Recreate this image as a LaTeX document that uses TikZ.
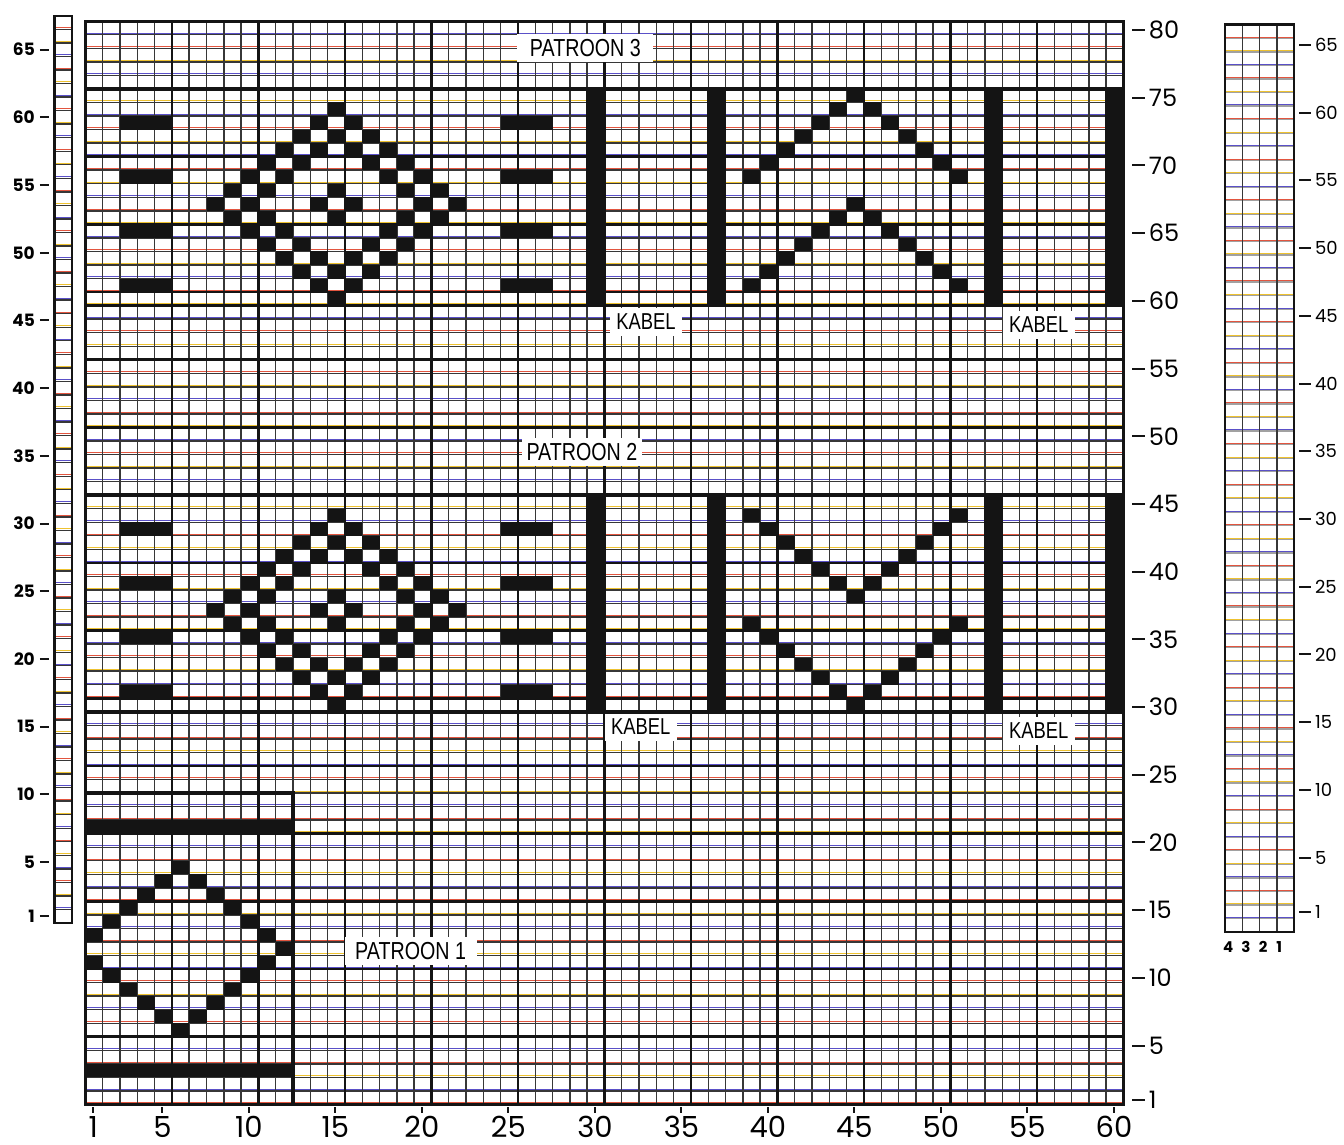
\documentclass[tikz,border=0pt]{standalone}
\usepackage{fontspec}
\usepackage{xcolor}
\newfontfamily\labelfont[FakeStretch=0.8]{Liberation Sans}
\newfontfamily\axisfont{Poppins}
\definecolor{inkblack}{HTML}{141414}
\definecolor{rulered}{HTML}{E2553F}
\definecolor{ruleblue}{HTML}{5A50C8}
\definecolor{ruleyellow}{HTML}{EEC230}
\newcommand{\stitchat}[2]{\fill[stitch] ({#1-1},{#2-1}) rectangle ({#1},{#2});}

\begin{document}
\begin{tikzpicture}[x=8.65pt, y=6.77pt,
    thinrule/.style={line width=0.7pt, draw=inkblack!85},
    fiverule/.style={line width=1.3pt, draw=inkblack},
    boldrule/.style={line width=1.9pt, draw=inkblack},
    fringe/.style={line width=0.45pt},
    stitch/.style={fill=inkblack},
    tickmark/.style={line width=1pt, draw=inkblack},
    patbox/.style={fill=white, inner sep=0pt, minimum height=14pt,
                   font=\labelfont\fontsize{12.3}{14}\selectfont},
    kabbox/.style={fill=white, inner sep=0pt, minimum width=36pt,
                   minimum height=14pt, font=\labelfont\fontsize{11.5}{13}\selectfont},
    botnum/.style={inner sep=0pt, font=\axisfont\fontsize{14.5}{15}\selectfont},
    rightnum/.style={inner sep=0pt, anchor=west, font=\axisfont\fontsize{12}{12}\selectfont},
    leftnum/.style={inner sep=0pt, anchor=east, font=\axisfont\bfseries\fontsize{8.5}{9}\selectfont},
    stripnum/.style={inner sep=0pt, anchor=west, font=\axisfont\fontsize{9}{9}\selectfont}
]
  \useasboundingbox (-4.936,-2.99) rectangle (72.75,81.57);

  % ruled paper of the main chart
  \foreach \j in {0,...,79} {
    \pgfmathtruncatemacro\cc{mod(\j,3)}
    \ifcase\cc\def\fc{rulered}\or\def\fc{ruleblue}\else\def\fc{ruleyellow}\fi
    \draw[fringe, draw=\fc] (0,\j+0.13) -- (60,\j+0.13);
  }
  \draw[thinrule, xstep=1, ystep=1] (0,0) grid (60,80);
  \foreach \i in {5,10,...,55} \draw[fiverule] (\i,0) -- (\i,80);
  \foreach \j in {5,10,...,75} \draw[fiverule] (0,\j) -- (60,\j);

  % labels on white patches
  \node[patbox, minimum width=68pt] (pat3) at (28.9,78.05) {PATROON 3};
  \node[patbox, minimum width=60pt] (pat2) at (28.7,48.2) {PATROON 2};
  \node[patbox, minimum width=66pt] (pat1) at (18.8,11.3) {PATROON 1};
  \node[kabbox] (kab3l) at (32.4,57.8) {KABEL};
  \node[kabbox] (kab3r) at (55.1,57.6) {KABEL};
  \node[kabbox] (kab2l) at (32.1,27.9) {KABEL};
  \node[kabbox] (kab2r) at (55.1,27.6) {KABEL};

  \foreach \j in {29,45,59,75} \draw[boldrule] (0,\j) -- (60,\j);
  \draw[boldrule] (0,23) -- (12,23) -- (12,0);
  \draw[fiverule] (0,0) rectangle (60,80);

  % patroon 1
  \fill[stitch] (0,2) rectangle (12,3);
  \fill[stitch] (0,20) rectangle (12,21);
  \foreach \k in {0,...,5} {\stitchat{6-\k}{18-\k}}
  \foreach \k in {1,...,6} {
    \stitchat{6+\k}{18-\k}
    \stitchat{12-\k}{12-\k}
  }
  \foreach \k in {1,...,5} {\stitchat{6-\k}{6+\k}}

  % patroon 2 and 3
  \foreach \yo in {30,60} {
    \foreach \r in {1,5,9,13} {
      \fill[stitch] (2,\yo+\r-1) rectangle (5,\yo+\r);
      \fill[stitch] (24,\yo+\r-1) rectangle (27,\yo+\r);
    }
    \foreach \n in {1,5,7} {
      \foreach \k in {1,...,\n} {
        \stitchat{15+\n-\k}{\yo+7+\k}
        \stitchat{15-\k}{\yo+7+\n-\k}
        \stitchat{15-\n+\k}{\yo+7-\k}
        \stitchat{15+\k}{\yo+7-\n+\k}
      }
    }
    \foreach \c in {30,37,53,60} {\fill[stitch] (\c-1.05,\yo-1) rectangle (\c+0.05,\yo+15);}
  }
  % kabel chevrons
  \foreach \k in {0,...,6} {
    \stitchat{45-\k}{38+\k} \stitchat{45+\k}{38+\k}
    \stitchat{45-\k}{30+\k} \stitchat{45+\k}{30+\k}
    \stitchat{45-\k}{75-\k} \stitchat{45+\k}{75-\k}
    \stitchat{45-\k}{67-\k} \stitchat{45+\k}{67-\k}
  }

  % scales of the main chart
  \foreach \c in {1,5,10,...,60} {
    \draw[tickmark] (\c-0.55,-0.2) -- (\c-0.55,-0.62);
    \node[botnum] (bx\c) at (\c-0.55,-1.65) {\c};
  }
  \foreach \r in {1,5,10,...,80} {
    \draw[tickmark] (60.5,\r-0.65) -- (61.25,\r-0.65);
    \node[rightnum] (ry\r) at (61.45,\r-0.65) {\r};
  }

  % left strip
  \foreach \j in {1,...,66} {
    \pgfmathtruncatemacro\cc{mod(\j,3)}
    \ifcase\cc\def\fc{rulered}\or\def\fc{ruleblue}\else\def\fc{ruleyellow}\fi
    \draw[fringe, draw=\fc] (-1.78,13.4+\j+0.13) -- (-0.78,13.4+\j+0.13);
    \draw[thinrule] (-1.78,13.4+\j) -- (-0.78,13.4+\j);
  }
  \draw[fiverule] (-1.78,13.4) rectangle (-0.78,80.4);
  \foreach \k in {1,5,10,...,65} {
    \draw[tickmark] (-2.63,13.4+\k-0.5) -- (-2.08,13.4+\k-0.5);
    \node[leftnum] (ly\k) at (-2.9,13.4+\k-0.5) {\k};
  }

  % right strip
  \foreach \j in {1,...,66} {
    \pgfmathtruncatemacro\cc{mod(\j,3)}
    \ifcase\cc\def\fc{rulered}\or\def\fc{ruleblue}\else\def\fc{ruleyellow}\fi
    \draw[thinrule, draw=inkblack!40] (65.87,12.74+\j) -- (69.87,12.74+\j);
    \draw[fringe, draw=\fc] (65.87,12.74+\j+0.08) -- (69.87,12.74+\j+0.08);
  }
  \foreach \i in {1,2,3} {\draw[thinrule] (65.87+\i,12.74) -- (65.87+\i,79.74);}
  \draw[fiverule] (65.87,12.74) rectangle (69.87,79.74);
  \foreach \k in {1,5,10,...,65} {
    \draw[tickmark] (70.15,12.74+\k+0.5) -- (70.84,12.74+\k+0.5);
    \node[stripnum] (sy\k) at (71.05,12.74+\k+0.5) {\k};
  }
  \foreach \d/\xx in {4/66.05,3/67.08,2/68.07,1/69.0} {
    \node[inner sep=0pt, font=\axisfont\bfseries\fontsize{7.5}{8}\selectfont] (sc\d) at (\xx,11.63) {\d};
  }
\end{tikzpicture}
\end{document}
